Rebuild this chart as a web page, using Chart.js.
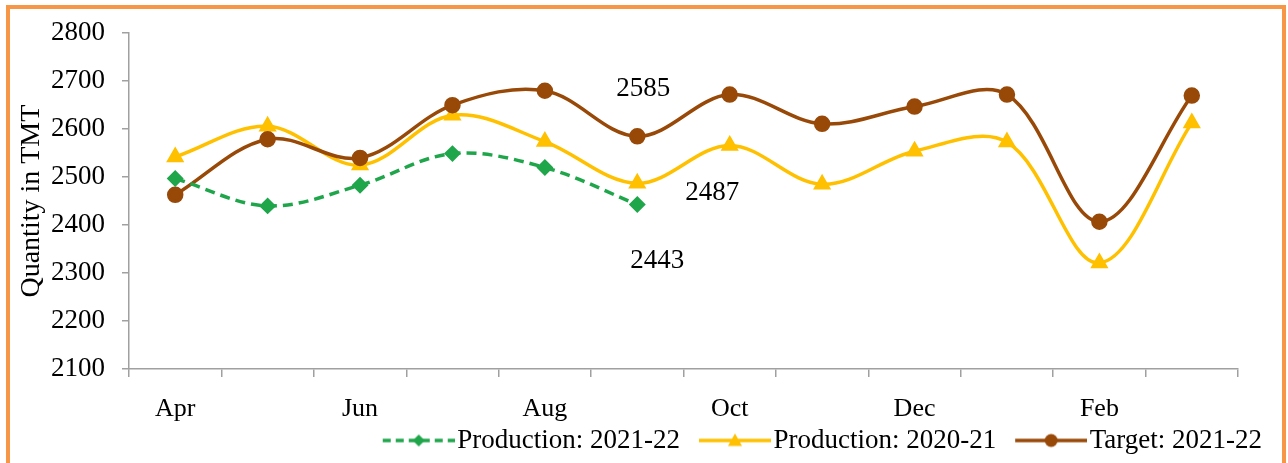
<!DOCTYPE html>
<html><head><meta charset="utf-8">
<script src="https://cdn.jsdelivr.net/npm/chart.js@4/dist/chart.umd.min.js"></script>
<style>
html,body{margin:0;padding:0;background:#fff;}
#wrap{position:relative;width:1288px;height:463px;overflow:hidden;background:#fff;}
#frame{position:absolute;left:6px;top:5px;width:1280px;height:520px;box-sizing:border-box;border:4px solid #F79646;pointer-events:none;}
canvas{position:absolute;left:0;top:0;}
</style></head><body>
<div id="wrap"><canvas id="c" width="1288" height="463"></canvas><div id="frame"></div></div>
<script>
const months = ['Apr','May','Jun','Jul','Aug','Sep','Oct','Nov','Dec','Jan','Feb','Mar'];
const production2122 = [2497,2440,2483,2549,2520,2443,null,null,null,null,null,null];
const production2021 = [2542,2606,2525,2629,2574,2487,2566,2485,2554,2573,2321,2613];
const target2122 = [2463,2579,2540,2650,2680,2585,2672,2611,2647,2672,2407,2670];
const seriesNames = ['Production: 2021-22','Production: 2020-21','Target: 2021-22'];
const yMin = 2100, yMax = 2800, yStep = 100;
const labelIndex = 5;

const GREEN = '#1FA64B', YELLOW = '#FFC000', BROWN = '#984807';
const FONT = "'Liberation Serif','Times New Roman',serif";

// legend icon: transparent lead-in, then a 72px line with the marker in its middle
function makeIcon(color, dash, shape, r) {
  const c = document.createElement('canvas');
  c.width = 98; c.height = 20;
  const g = c.getContext('2d');
  const x0 = 26, x1 = 98, cx = (x0 + x1) / 2, cy = 10;
  g.strokeStyle = color; g.lineWidth = 3.5; g.setLineDash(dash);
  g.beginPath(); g.moveTo(x0, cy); g.lineTo(x1, cy); g.stroke();
  g.setLineDash([]); g.fillStyle = color;
  g.beginPath();
  if (shape === 'circle') { g.arc(cx, cy, r, 0, Math.PI * 2); }
  else if (shape === 'triangle') { g.moveTo(cx, cy - r); g.lineTo(cx + r, cy + r * 0.8); g.lineTo(cx - r, cy + r * 0.8); g.closePath(); }
  else { g.moveTo(cx, cy - r); g.lineTo(cx + r, cy); g.lineTo(cx, cy + r); g.lineTo(cx - r, cy); g.closePath(); }
  g.fill();
  return c;
}
const icons = [
  makeIcon(GREEN, [8, 5], 'diamond', 6),
  makeIcon(YELLOW, [], 'triangle', 7),
  makeIcon(BROWN, [], 'circle', 6.5)
];

const valueLabels = {
  id: 'valueLabels',
  afterDatasetsDraw(chart) {
    const {ctx, scales: {x, y}} = chart;
    const px = x.getPixelForValue(labelIndex);
    const items = [
      {v: target2122[labelIndex], dx: 6, dy: -47},
      {v: production2021[labelIndex], dx: 75, dy: 10},
      {v: production2122[labelIndex], dx: 20, dy: 56}
    ];
    ctx.save();
    ctx.font = '27px ' + FONT;
    ctx.fillStyle = '#000';
    ctx.textAlign = 'center';
    ctx.textBaseline = 'middle';
    items.forEach(it => ctx.fillText(String(it.v), px + it.dx, y.getPixelForValue(it.v) + it.dy));
    ctx.restore();
  }
};

new Chart(document.getElementById('c'), {
  type: 'line',
  data: {
    labels: months,
    datasets: [
      {label: seriesNames[0], data: production2122, borderColor: GREEN, backgroundColor: GREEN,
       borderWidth: 3.5, borderDash: [10, 6], pointStyle: 'rectRot', pointRadius: 6, order: 0},
      {label: seriesNames[1], data: production2021, borderColor: YELLOW, backgroundColor: YELLOW,
       borderWidth: 3.5, pointStyle: 'triangle', pointRadius: 7, order: 2},
      {label: seriesNames[2], data: target2122, borderColor: BROWN, backgroundColor: BROWN,
       borderWidth: 3.5, pointStyle: 'circle', pointRadius: 6.5, order: 1}
    ]
  },
  options: {
    responsive: false,
    animation: false,
    devicePixelRatio: 1,
    elements: {line: {tension: 0.35}},
    layout: {padding: {left: 8, right: 22, top: 33, bottom: -1}},
    plugins: {
      tooltip: {enabled: false},
      legend: {
        position: 'bottom',
        align: 'end',
        labels: {
          usePointStyle: true,
          pointStyleWidth: 76,
          padding: 4,
          color: '#000',
          font: {family: FONT, size: 27},
          generateLabels(chart) {
            return chart.data.datasets.map((ds, i) => ({
              text: ds.label, pointStyle: icons[i], datasetIndex: i,
              fillStyle: ds.borderColor, strokeStyle: ds.borderColor, lineWidth: 0,
              hidden: false, fontColor: '#000'
            }));
          }
        }
      }
    },
    scales: {
      x: {
        offset: true,
        grid: {display: true, offset: true, drawOnChartArea: false, color: '#A0A0A0', tickLength: 8, lineWidth: 1.5},
        border: {display: true, color: '#A0A0A0', width: 1.5},
        ticks: {
          autoSkip: false, maxRotation: 0, padding: 17, color: '#000',
          font: {family: FONT, size: 26},
          callback(val, idx) { return idx % 2 === 0 ? this.getLabelForValue(val) : ''; }
        },
        afterFit(s) { s.height = 54; }
      },
      y: {
        min: yMin, max: yMax,
        grid: {display: true, drawOnChartArea: false, color: '#A0A0A0', tickLength: 7, lineWidth: 1.5},
        border: {display: true, color: '#A0A0A0', width: 1.5},
        ticks: {stepSize: yStep, padding: 17, color: '#000', font: {family: FONT, size: 27},
          callback(v) { return String(v); }},
        title: {display: true, text: 'Quantity in TMT', color: '#000', font: {family: FONT, size: 28}, padding: {top: 7, bottom: 0}},
        afterFit(s) { s.width = 121; }
      },
      yR: {
        position: 'right', min: yMin, max: yMax, display: true,
        grid: {display: false}, border: {display: false}, ticks: {display: false},
        afterFit(s) { s.width = 28; }
      }
    }
  },
  plugins: [valueLabels]
});
</script>
</body></html>
